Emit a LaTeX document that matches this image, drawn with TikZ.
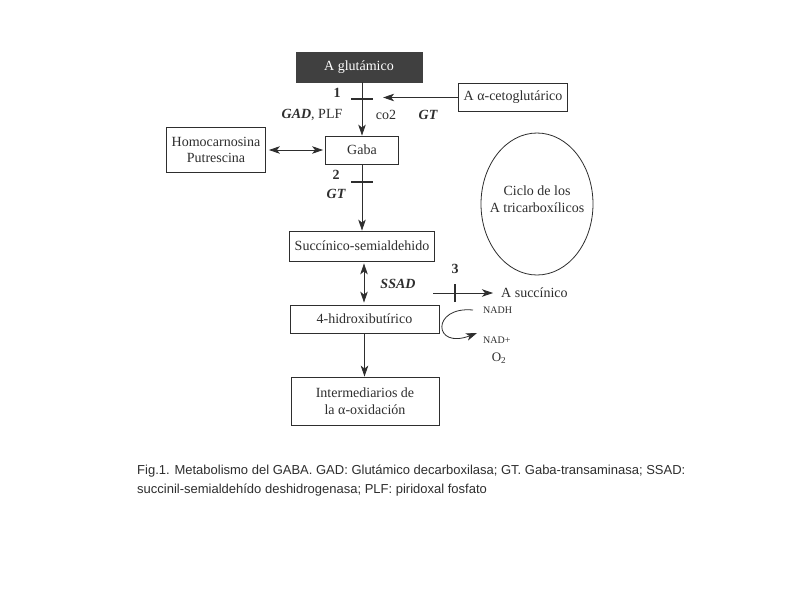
\documentclass[tikz,border=0pt]{standalone}
\usepackage{fontspec}
\setmainfont{Liberation Serif}
\newfontfamily\capfont{Liberation Sans}
\usetikzlibrary{arrows.meta,shapes.geometric}
\definecolor{darkbox}{HTML}{404040}
\definecolor{ink}{HTML}{2E2E2E}
\begin{document}
\begin{tikzpicture}[x=1pt,y=-1pt,
  box/.style={draw=ink, line width=0.8pt, inner sep=0pt, font=\fontsize{14}{16.5}\selectfont, text=ink},
  lbl/.style={inner sep=0pt, font=\fontsize{14}{16.5}\selectfont, text=ink},
  tip/.tip={Stealth[length=11pt,width=7.5pt,inset=3pt]},
  arr/.style={draw=ink, line width=0.8pt, -tip},
  darr/.style={draw=ink, line width=0.8pt, tip-tip},
  barline/.style={draw=ink, line width=1.2pt}]
\useasboundingbox (0,0) rectangle (800,600);
\fill[white] (0,0) rectangle (800,600);
% nodes
\node[box, fill=darkbox, draw=darkbox, text=white, minimum width=126pt, minimum height=30pt] (glu) at (359,67) {A glutámico};
\node[box, minimum width=109pt, minimum height=28pt] (ceto) at (513,97.5) {A α-cetoglutárico};
\node[box, minimum width=99pt, minimum height=45pt, align=center] (homo) at (216,150) {Homocarnosina\\Putrescina};
\node[box, minimum width=73pt, minimum height=28pt] (gaba) at (362,150) {Gaba};
\node[box, minimum width=145pt, minimum height=30pt] (succ) at (362,246) {Succínico-semialdehido};
\node[box, minimum width=149pt, minimum height=28pt] (hid) at (364.5,319) {4-hidroxibutírico};
\node[box, minimum width=148pt, minimum height=48pt, align=center] (inter) at (365,401) {Intermediarios de\\la α-oxidación};
\node[draw=ink, line width=0.8pt, ellipse, minimum width=112pt, minimum height=142pt, inner sep=0pt] (cic) at (537,204) {};
\node[lbl, align=center] (cictxt) at (537,199) {Ciclo de los\\A tricarboxílicos};
\node[lbl, anchor=west] (asuc) at (501,293) {A succínico};
\node[lbl, anchor=west, font=\fontsize{10}{11}\selectfont] (nadh) at (483,310) {NADH};
\node[lbl, anchor=west, font=\fontsize{10}{11}\selectfont] (nadp) at (483,340) {NAD+};
\node[lbl, font=\fontsize{13}{15}\selectfont] (otwo) at (499,358) {O\textsubscript{2}};
% labels
\node[lbl, font=\bfseries\fontsize{14}{16.5}\selectfont] (n1) at (337,93) {1};
\node[lbl] (gad) at (312,115) {\textbf{\textit{GAD}}, PLF};
\node[lbl] (co2) at (386,115) {co2};
\node[lbl, font=\bfseries\itshape\fontsize{14}{16.5}\selectfont] (gt1) at (428,115) {GT};
\node[lbl, font=\bfseries\fontsize{14}{16.5}\selectfont] (n2) at (336,175) {2};
\node[lbl, font=\bfseries\itshape\fontsize{14}{16.5}\selectfont] (gt2) at (336,194) {GT};
\node[lbl, font=\bfseries\itshape\fontsize{14}{16.5}\selectfont] (ssad) at (398,284) {SSAD};
\node[lbl, font=\bfseries\fontsize{14}{16.5}\selectfont] (n3) at (455,269) {3};
% connectors
\draw[arr] (glu.south -| gaba.north) -- (gaba.north);
\coordinate (b1) at (362,99);
\draw[barline] ([xshift=-11pt]b1) -- ([xshift=11pt]b1);
\draw[arr] (ceto.west) -- ++(-75,0);
\draw[darr, shorten <=3pt, shorten >=2pt] (homo.east) -- (homo.east -| gaba.west);
\draw[arr] (gaba.south) -- (gaba.south |- succ.north);
\coordinate (b2) at (362,182);
\draw[barline] ([xshift=-11pt]b2) -- ([xshift=11pt]b2);
\draw[darr, shorten <=2pt, shorten >=2pt] ([xshift=2pt]succ.south) -- ([xshift=2pt]succ.south |- hid.north);
\draw[arr] (hid.south) -- (hid.south |- inter.north);
\coordinate (c3) at (433,293);
\draw[arr, shorten >=8pt] (c3) -- (asuc.west);
\coordinate (b3) at (455,293);
\draw[barline] ([yshift=-9pt]b3) -- ([yshift=9pt]b3);
\draw[arr] ([xshift=-10pt]nadh.west) .. controls (431,306) and (433,350) .. ([xshift=-6pt,yshift=7pt]nadp.west);
% caption
\node[inner sep=0pt, anchor=north west, align=left, text=ink, font=\capfont\fontsize{13}{19}\selectfont] (cap) at (137,465) {Fig.1. Metabolismo del GABA. GAD: Glutámico decarboxilasa; GT. Gaba-transaminasa; SSAD:\\succinil-semialdehído deshidrogenasa; PLF: piridoxal fosfato};
\end{tikzpicture}
\end{document}
